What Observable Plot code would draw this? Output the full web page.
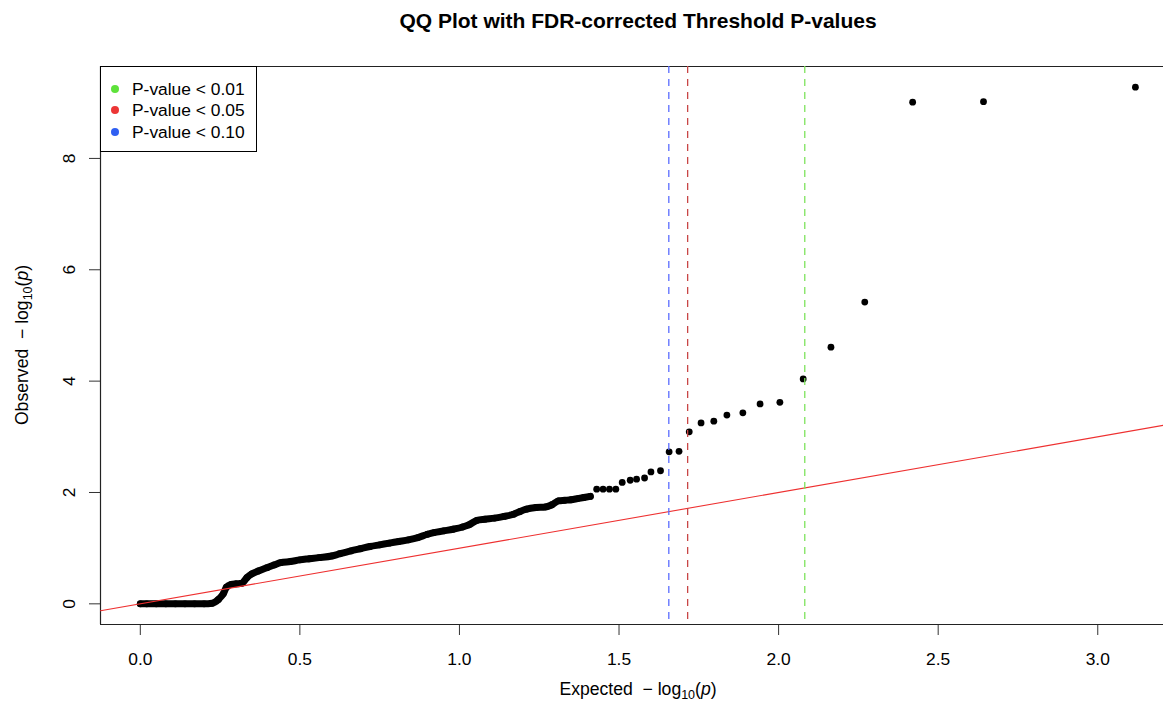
<!DOCTYPE html>
<html>
<head>
<meta charset="utf-8">
<script src="https://cdn.jsdelivr.net/npm/d3@7"></script>
<script src="https://cdn.jsdelivr.net/npm/@observablehq/plot@0.6"></script>
<style>
  html, body { margin: 0; padding: 0; background: #fff; overflow: hidden; }
  #wrap { position: relative; width: 1163px; height: 706px; overflow: hidden; font-family: "Liberation Sans", Arial, Helvetica, sans-serif; color: #000; }
  #title { position: absolute; left: 100px; width: 1076px; top: 9px; text-align: center; font-weight: bold; font-size: 21px; }
  #chart { position: absolute; left: 0; top: 40px; }
  #legend { position: absolute; left: 100px; top: 66px; width: 157px; height: 86px; box-sizing: border-box; border: 1px solid #000; background: #fff; font-size: 17.4px; }
  #legend .row { position: absolute; left: 0; height: 20px; line-height: 20px; white-space: nowrap; }
  #legend .dot { position: absolute; left: 10px; top: 6px; width: 8px; height: 8px; border-radius: 50%; }
  #legend .lab { position: absolute; left: 31px; top: 0; }
  .axtitle { position: absolute; font-size: 17.6px; white-space: nowrap; }
  .axtitle sub { font-size: 12.5px; vertical-align: -4px; line-height: 0; }
  #xlab { left: 100px; width: 1076px; top: 679px; text-align: center; }
  #ylab { left: 22px; top: 345px; transform: translate(-50%, -50%) rotate(-90deg); }
</style>
</head>
<body>
<div id="wrap">
  <div id="title">QQ Plot with FDR-corrected Threshold P-values</div>
  <div id="chart"></div>
  <div id="legend"></div>
  <div id="xlab" class="axtitle">Expected&nbsp; − log<sub>10</sub>(<i>p</i>)</div>
  <div id="ylab" class="axtitle">Observed&nbsp; − log<sub>10</sub>(<i>p</i>)</div>
</div>
<script>
const curveExpected = [0.00, 0.02, 0.05, 0.08, 0.11, 0.14, 0.17, 0.20, 0.225, 0.245, 0.26, 0.27, 0.285, 0.30, 0.318, 0.334, 0.35, 0.37, 0.397, 0.42, 0.44, 0.47, 0.50, 0.53, 0.56, 0.60, 0.626, 0.66, 0.69, 0.72, 0.75, 0.78, 0.81, 0.84, 0.87, 0.90, 0.92, 0.95, 0.98, 1.01, 1.03, 1.055, 1.08, 1.11, 1.14, 1.17, 1.19, 1.21, 1.24, 1.27, 1.29, 1.31, 1.33, 1.35, 1.37, 1.39, 1.41];
const curveObserved = [0.00, 0.00, 0.00, 0.00, 0.00, 0.00, 0.00, 0.00, 0.01, 0.08, 0.18, 0.30, 0.35, 0.36, 0.37, 0.47, 0.54, 0.59, 0.65, 0.70, 0.74, 0.76, 0.79, 0.81, 0.83, 0.86, 0.90, 0.95, 0.99, 1.03, 1.06, 1.09, 1.12, 1.15, 1.19, 1.25, 1.28, 1.31, 1.34, 1.38, 1.42, 1.50, 1.52, 1.54, 1.57, 1.61, 1.66, 1.70, 1.73, 1.74, 1.78, 1.85, 1.86, 1.87, 1.89, 1.91, 1.93];
// Separate points in the upper tail
const tailExpected = [1.43, 1.45, 1.47, 1.49, 1.51, 1.535, 1.555, 1.58, 1.60, 1.63, 1.657, 1.688, 1.72, 1.757, 1.797, 1.838, 1.888, 1.942, 2.004, 2.077, 2.164, 2.27, 2.42, 2.642, 3.118];
const tailObserved = [2.06, 2.06, 2.06, 2.06, 2.18, 2.22, 2.24, 2.26, 2.37, 2.39, 2.73, 2.74, 3.09, 3.25, 3.28, 3.39, 3.43, 3.59, 3.62, 4.04, 4.61, 5.42, 9.01, 9.02, 9.28];
// FDR thresholds (vertical lines)
const thresholdLabels = ["P-value < 0.01", "P-value < 0.05", "P-value < 0.10"];
const thresholdValues = [2.082, 1.715, 1.656];
const thresholdDotColors = ["#5ee23a", "#ec3535", "#2f5ff2"];
const thresholdLineColors = ["#7ee35c", "#c84646", "#5a6cff"];
// Axis ticks
const xTicks = [0.0, 0.5, 1.0, 1.5, 2.0, 2.5, 3.0];
const yTicks = [0, 2, 4, 6, 8];

const xDomain = [-0.1247, 3.206];
const yDomain = [-0.371, 9.651];

const curve = curveExpected.map((e, i) => ({e, o: curveObserved[i]}));
const tail = tailExpected.map((e, i) => ({e, o: tailObserved[i]}));
const allPts = curve.concat(tail);
const thresholds = thresholdValues.map((v, i) => ({v, c: thresholdLineColors[i]}));

const chart = Plot.plot({
  width: 1163,
  height: 666,
  marginLeft: 100,
  marginRight: 0,
  marginTop: 26,
  marginBottom: 82,
  x: {domain: xDomain},
  y: {domain: yDomain},
  style: {fontFamily: '"Liberation Sans", Arial, Helvetica, sans-serif', fontSize: "17px", color: "#000", background: "#fff", overflow: "visible"},
  marks: [
    Plot.axisX({ticks: xTicks, tickSize: 11, tickPadding: 17, tickFormat: d => d.toFixed(1), fontSize: 17.4, label: null, stroke: "#333"}),
    Plot.axisY({ticks: yTicks, tickSize: 11, tickFormat: () => "", label: null, stroke: "#333"}),
    Plot.text(yTicks, {x: xDomain[0], y: d => d, dx: -31, rotate: -90, text: d => String(d), fontSize: 17.4, textAnchor: "middle", fill: "#000"}),
    Plot.ruleX([xDomain[0]], {stroke: "#222", strokeWidth: 1.2}),
    Plot.ruleY([yDomain[0], yDomain[1]], {stroke: "#222", strokeWidth: 1.2}),
    Plot.line(curve, {x: "e", y: "o", stroke: "#000", strokeWidth: 7, strokeLinecap: "round", strokeLinejoin: "round", curve: "monotone-x"}),
    Plot.dot(allPts, {x: "e", y: "o", r: 3.4, fill: "#000", stroke: "none"}),
    Plot.line(xDomain, {x: d => d, y: d => d, stroke: "#ee3030", strokeWidth: 1.1}),
    Plot.ruleX(thresholds, {x: "v", stroke: "c", strokeWidth: 1.3, strokeDasharray: "7,6"})
  ]
});
document.getElementById("chart").appendChild(chart);

const legend = document.getElementById("legend");
thresholdLabels.forEach((lab, i) => {
  const row = document.createElement("div");
  row.className = "row";
  row.style.top = (12 + i * 21.3) + "px";
  row.style.width = "100%";
  const dot = document.createElement("span");
  dot.className = "dot";
  dot.style.background = thresholdDotColors[i];
  const t = document.createElement("span");
  t.className = "lab";
  t.textContent = lab;
  row.appendChild(dot);
  row.appendChild(t);
  legend.appendChild(row);
});
</script>
</body>
</html>
